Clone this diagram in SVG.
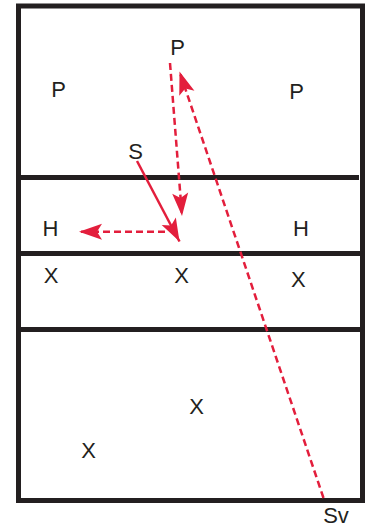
<svg xmlns="http://www.w3.org/2000/svg" width="370" height="527" viewBox="0 0 370 527">
<style>
.frame{fill:none;stroke:#231f20;stroke-width:5}
.div{stroke:#231f20;stroke-width:5}
.lbl{font-family:"Liberation Sans",Arial,sans-serif;font-size:22px;fill:#231f20;text-anchor:middle}
.arr{fill:none;stroke:#e31e3c;stroke-width:2.5}
.dash{stroke-dasharray:7 4}
</style>
<defs>
<marker id="ah" markerUnits="userSpaceOnUse" markerWidth="26" markerHeight="20" viewBox="-24 -10 26 20" refX="0" refY="0" orient="auto">
<path d="M0,0 L-23,-8 L-18,0 L-23,8 Z" fill="#e31e3c"/>
</marker>
</defs>
<g id="court">
<rect class="frame" x="18.5" y="6" width="344" height="494.5"/>
<line class="div" x1="18.5" y1="177.5" x2="359" y2="177.5"/>
<line class="div" x1="18.5" y1="253.5" x2="362.5" y2="253.5"/>
<line class="div" x1="18.5" y1="329.5" x2="362.5" y2="329.5"/>
</g>
<g id="connectors">
<line class="arr dash" x1="170" y1="63" x2="182" y2="216" marker-end="url(#ah)"/>
<line class="arr" x1="137" y1="161" x2="179.5" y2="241.5" marker-end="url(#ah)"/>
<line class="arr dash" x1="165" y1="231.7" x2="79" y2="231.7" marker-end="url(#ah)"/>
<line class="arr dash" x1="323.5" y1="498" x2="179.5" y2="71.5" marker-end="url(#ah)"/>
</g>
<g id="n-p-top"><text class="lbl" x="177.5" y="55">P</text></g>
<g id="n-p-left"><text class="lbl" x="58.5" y="96.5">P</text></g>
<g id="n-p-right"><text class="lbl" x="296.5" y="99">P</text></g>
<g id="n-s"><text class="lbl" x="135.5" y="159">S</text></g>
<g id="n-h-left"><text class="lbl" x="50.5" y="235.5">H</text></g>
<g id="n-h-right"><text class="lbl" x="301" y="235.5">H</text></g>
<g id="n-x-left"><text class="lbl" x="51" y="283.3">X</text></g>
<g id="n-x-mid"><text class="lbl" x="181.5" y="283">X</text></g>
<g id="n-x-right"><text class="lbl" x="298.3" y="287">X</text></g>
<g id="n-x-low"><text class="lbl" x="196.5" y="414">X</text></g>
<g id="n-x-lowleft"><text class="lbl" x="88.5" y="458">X</text></g>
<g id="n-sv"><text class="lbl" x="336" y="522.5">Sv</text></g>
</svg>
